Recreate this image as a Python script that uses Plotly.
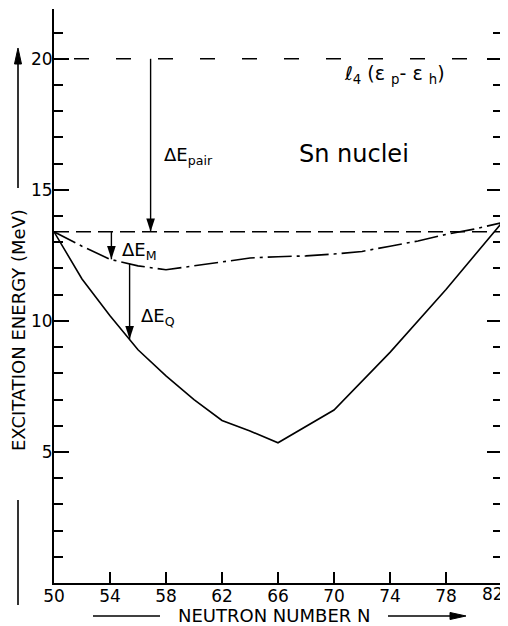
import plotly.graph_objects as go

# ---- data ----
n_solid = [50, 52, 54, 56, 58, 60, 62, 64, 66, 70, 74, 78, 82]
e_solid = [13.4, 11.6, 10.2, 8.9, 7.9, 7.0, 6.2, 5.8, 5.35, 6.6, 8.8, 11.2, 13.75]

n_dashdot = [50, 52, 54, 56, 58, 60, 62, 64, 66, 68, 70, 72, 74, 76, 78, 80, 82]
e_dashdot = [13.4, 12.85, 12.35, 12.1, 11.95, 12.1, 12.25, 12.4, 12.45, 12.48, 12.55, 12.65,
             12.85, 13.05, 13.3, 13.5, 13.75]

level_n = [50, 82]
upper_level = 20.0
lower_level = 13.4

# vertical arrows: N position, start energy, end (tip) energy
arrow_n = [56.9, 54.1, 55.4]
arrow_from = [20.0, 13.4, 12.18]
arrow_to = [13.4, 12.35, 9.3]

x_ticks = [50, 54, 58, 62, 66, 70, 74, 78, 82]
x_ticklabels = ["50", "54", "58", "62", "66", "70", "74", "78", "82"]
y_ticks = [5, 10, 15, 20]

FONT = "DejaVu Sans"

fig = go.Figure()

fig.add_trace(go.Scatter(x=level_n, y=[upper_level] * 2, mode="lines",
                         line=dict(color="black", width=1.6, dash="0px,20px,15px,7px")))
fig.add_trace(go.Scatter(x=level_n, y=[lower_level] * 2, mode="lines",
                         line=dict(color="black", width=1.6, dash="15px,7px")))
fig.add_trace(go.Scatter(x=n_dashdot, y=e_dashdot, mode="lines",
                         line=dict(color="black", width=1.6, dash="24px,5px,3px,5px")))
fig.add_trace(go.Scatter(x=n_solid, y=e_solid, mode="lines",
                         line=dict(color="black", width=1.6)))

for n, a, b in zip(arrow_n, arrow_from, arrow_to):
    fig.add_trace(go.Scatter(x=[n, n], y=[a, b], mode="lines",
                             line=dict(color="black", width=1.4)))
fig.add_trace(go.Scatter(x=arrow_n, y=arrow_to, mode="markers",
                         marker=dict(symbol="arrow", angle=180, size=14, color="black",
                                     line=dict(width=0)),
                         cliponaxis=False))

# text labels
def label(x, y, text, size, xanchor="left"):
    fig.add_annotation(x=x, y=y, text=text, showarrow=False, xanchor=xanchor,
                       yanchor="middle", font=dict(family=FONT, size=size, color="black"))

label(57.7, 16.3, "ΔE<sub>pair</sub>", 18)
label(71.4, 16.35, "Sn nuclei", 24, xanchor="center")
label(54.7, 12.65, "ΔE<sub>M</sub>", 18)
label(56.05, 10.15, "ΔE<sub>Q</sub>", 18)
label(70.6, 19.4, "ℓ<sub>4</sub> (ε <sub>p</sub>- ε <sub>h</sub>)", 19)

# The page body has an 8px margin, so the figure is drawn offset by (8, 8).
OFF = 8
W, H = 508 - OFF, 626 - OFF
L, R, T, B = 54 - OFF, 6, max(9 - OFF, 0), 43
pw, ph = W - L - R, H - T - B
def px(xs):          # screenshot x pixel -> paper x
    return (xs - OFF - L) / pw
def py(ys):          # screenshot y pixel -> paper y
    return (H - B - (ys - OFF)) / ph

def seg(x0, y0, x1, y1):
    fig.add_shape(type="line", xref="paper", yref="paper",
                  x0=px(x0), x1=px(x1), y0=py(y0), y1=py(y1),
                  line=dict(color="black", width=1.6))

def head(pts):
    path = "M " + " L ".join(f"{px(a):.5f},{py(b):.5f}" for a, b in pts) + " Z"
    fig.add_shape(type="path", xref="paper", yref="paper", path=path,
                  fillcolor="black", line=dict(color="black", width=1))

# the last x tick label sits against the right page edge: draw it right-aligned
fig.add_annotation(x=x_ticks[-1], y=py(594), xref="x", yref="paper",
                   text=x_ticklabels[-1], showarrow=False, xanchor="right",
                   yanchor="middle", xshift=4,
                   font=dict(family=FONT, size=17, color="black"))

# y title
fig.add_annotation(x=px(18), y=py(330), xref="paper", yref="paper",
                   text="EXCITATION ENERGY (MeV)", textangle=-90, showarrow=False,
                   xanchor="center", yanchor="middle",
                   font=dict(family=FONT, size=18, color="black"))
seg(18, 605, 18, 500)
seg(18, 188, 18, 62)
head([(18, 48), (14.5, 64), (21.5, 64)])

# x title
fig.add_annotation(x=px(274), y=py(615), xref="paper", yref="paper",
                   text="NEUTRON NUMBER N", showarrow=False,
                   xanchor="center", yanchor="middle",
                   font=dict(family=FONT, size=18, color="black"))
seg(93, 616, 160, 616)
seg(388, 616, 452, 616)
head([(466, 616), (450, 612.5), (450, 619.5)])

fig.update_layout(
    width=W, height=H,
    margin=dict(l=L, r=R, t=T, b=B, autoexpand=False),
    paper_bgcolor="white", plot_bgcolor="white",
    showlegend=False,
    font=dict(family=FONT, size=17, color="black"),
)
fig.update_xaxes(range=[50, 82], tickvals=x_ticks,
                 ticktext=x_ticklabels[:-1] + [""],
                 showgrid=False, zeroline=False, showline=True, linecolor="black",
                 linewidth=2, ticks="inside", ticklen=11, tickwidth=1.6,
                 tickcolor="black", mirror=False, automargin=False,
                 ticklabelstandoff=-3,
                 tickfont=dict(family=FONT, size=17, color="black"))
fig.update_yaxes(range=[0, 21.9], tickvals=y_ticks, ticktext=[str(v) for v in y_ticks],
                 showgrid=False, zeroline=False, showline=True, linecolor="black",
                 linewidth=2, ticks="inside", ticklen=15, tickwidth=1.6,
                 tickcolor="black", mirror="ticks", automargin=False,
                 ticklabelstandoff=-4,
                 minor=dict(dtick=1, ticks="inside", ticklen=9, tickwidth=1.6,
                            tickcolor="black", showgrid=False),
                 tickfont=dict(family=FONT, size=17, color="black"))

fig.write_html("out.html")
